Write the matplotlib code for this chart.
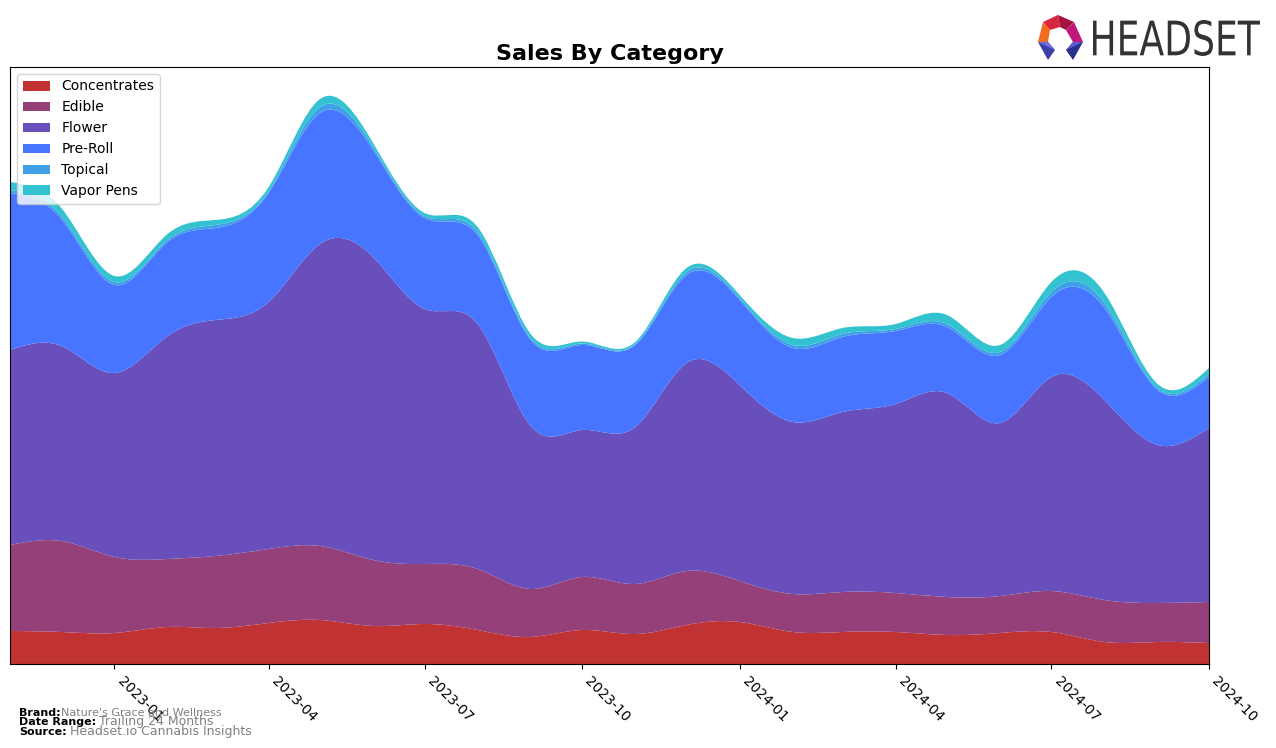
import datetime as dt
import numpy as np
import matplotlib
matplotlib.use('Agg')
import matplotlib.pyplot as plt
import matplotlib.dates as mdates
from matplotlib.path import Path
from matplotlib.patches import PathPatch, Patch, Polygon
from matplotlib.textpath import TextPath
from matplotlib.font_manager import FontProperties
from matplotlib.transforms import Affine2D

# monthly sales by category (arbitrary units)
months = ['2022-11', '2022-12', '2023-01', '2023-02', '2023-03', '2023-04',
          '2023-05', '2023-06', '2023-07', '2023-08', '2023-09', '2023-10',
          '2023-11', '2023-12', '2024-01', '2024-02', '2024-03', '2024-04',
          '2024-05', '2024-06', '2024-07', '2024-08', '2024-09', '2024-10']
concentrates = [33, 32, 31, 37, 36, 41, 44, 38, 40, 34, 27, 34,
                30, 39, 42, 32, 32, 32, 29, 31, 32, 22, 22, 21]
edible = [86, 91, 76, 68, 72, 74, 74, 66, 60, 61, 48, 53,
          50, 54, 41, 38, 40, 39, 38, 37, 41, 42, 39, 41]
flower = [195, 195, 184, 223, 236, 247, 302, 303, 255, 245, 163, 147,
          157, 208, 196, 172, 180, 189, 204, 173, 214, 200, 158, 174]
pre_roll = [157, 127, 88, 94, 92, 109, 131, 107, 91, 89, 86, 85,
            82, 88, 85, 74, 75, 73, 66, 68, 80, 92, 55, 51]
topical = [3, 3, 3, 2, 3, 2, 6, 3, 2, 3, 2, 1.5,
           1, 3, 2, 3, 3, 2, 3, 3, 5, 5, 2, 3]
vapor_pens = [8, 8, 6, 6, 5, 4, 8, 4, 3, 5, 4, 2,
              2, 4, 3, 7, 6, 5, 9, 7, 10, 10, 4, 6]

labels = ['Concentrates', 'Edible', 'Flower', 'Pre-Roll', 'Topical', 'Vapor Pens']
colors = ['#C13232', '#96407A', '#684FBC', '#4775FF', '#3FA0E8', '#33C3D0']


def spline_slopes(xs, ys):
    # slopes of a natural cubic spline through the points
    n = len(xs)
    h = np.diff(xs)
    d = np.diff(ys) / h
    A = np.zeros((n, n))
    b = np.zeros(n)
    A[0, 0], A[0, 1], b[0] = 2, 1, 3 * d[0]
    A[-1, -2], A[-1, -1], b[-1] = 1, 2, 3 * d[-1]
    for i in range(1, n - 1):
        A[i, i - 1] = h[i]
        A[i, i] = 2 * (h[i - 1] + h[i])
        A[i, i + 1] = h[i - 1]
        b[i] = 3 * (h[i] * d[i - 1] + h[i - 1] * d[i])
    return np.linalg.solve(A, b)


def bezier_segments(xs, ys):
    # cubic bezier control points equal to the spline pieces
    m = spline_slopes(xs, ys)
    verts = []
    for i in range(len(xs) - 1):
        h = xs[i + 1] - xs[i]
        verts += [(xs[i] + h / 3, ys[i] + h * m[i] / 3),
                  (xs[i + 1] - h / 3, ys[i + 1] - h * m[i + 1] / 3),
                  (xs[i + 1], ys[i + 1])]
    return verts


x = mdates.date2num([dt.datetime.strptime(m, '%Y-%m') for m in months])
series = [concentrates, edible, flower, pre_roll, topical, vapor_pens]

fig = plt.figure(figsize=(12.76, 7.48), dpi=100)
ax = fig.add_axes([10 / 1276, 84 / 748, 1199 / 1276, 597 / 748])

bottom = np.zeros(len(x))
for vals, col in zip(series, colors):
    top = bottom + np.array(vals, dtype=float)
    verts = [(x[0], top[0])] + bezier_segments(x, top)
    verts += [(x[-1], bottom[-1])] + bezier_segments(x[::-1], bottom[::-1])
    verts += [(x[0], top[0])]
    codes = [Path.MOVETO] + [Path.CURVE4] * (3 * (len(x) - 1))
    codes += [Path.LINETO] + [Path.CURVE4] * (3 * (len(x) - 1))
    codes += [Path.CLOSEPOLY]
    ax.add_patch(PathPatch(Path(verts, codes), facecolor=col, edgecolor='none'))
    bottom = top

ax.xaxis_date()
ax.set_xlim(x[0], x[-1])
ax.set_ylim(0, 597)
ax.xaxis.set_major_locator(mdates.MonthLocator(bymonth=[1, 4, 7, 10]))
ax.xaxis.set_major_formatter(mdates.DateFormatter('%Y-%m'))
plt.setp(ax.get_xticklabels(), rotation=-45, ha='left', fontsize=10)
ax.set_yticks([])
ax.set_title('Sales By Category', fontsize=16, fontweight='bold', pad=5)

handles = [Patch(facecolor=c, label=l) for c, l in zip(colors, labels)]
ax.legend(handles=handles, loc='upper left', fontsize=10, framealpha=0.8)

# footer
fig.text(19 / 1276, 1 - 713 / 748, 'Brand:', fontsize=8, fontweight='bold', va='center')
fig.text(61 / 1276, 1 - 713 / 748, "Nature's Grace and Wellness", fontsize=8, color='gray', va='center')
fig.text(19 / 1276, 1 - 722 / 748, 'Date Range:', fontsize=8, fontweight='bold', va='center')
fig.text(99 / 1276, 1 - 722 / 748, 'Trailing 24 Months', fontsize=9, color='gray', va='center')
fig.text(19 / 1276, 1 - 732 / 748, 'Source:', fontsize=8, fontweight='bold', va='center')
fig.text(70 / 1276, 1 - 732 / 748, 'Headset.io Cannabis Insights', fontsize=9, color='gray', va='center')

# logo
lax = fig.add_axes([1030 / 1276, 1 - 65 / 748, 240 / 1276, 55 / 748])
lax.set_xlim(1030, 1270)
lax.set_ylim(65, 10)
lax.axis('off')
logo_parts = [
    ([(1043, 22), (1058, 15), (1060, 27), (1050, 30)], '#D7263D'),
    ([(1058, 15), (1074, 22), (1066, 30), (1060, 27)], '#A4133C'),
    ([(1043, 22), (1050, 30), (1048, 42), (1038, 42)], '#F26B21'),
    ([(1074, 22), (1083, 42), (1073, 42), (1066, 30)], '#C2187A'),
    ([(1038, 42), (1048, 42), (1055, 50), (1048, 60)], '#3B3FA8'),
    ([(1083, 42), (1073, 42), (1066, 50), (1073, 60)], '#2B2F8C'),
    ([(1038, 42), (1048, 42), (1055, 50)], '#6C6FE0'),
    ([(1083, 42), (1073, 42), (1066, 50)], '#5A5DD0'),
]
for pts, col in logo_parts:
    lax.add_patch(Polygon(pts, closed=True, facecolor=col, edgecolor='none'))

# squeeze the wordmark into its box
tp = TextPath((0, 0), 'HEADSET', size=40, prop=FontProperties(family='DejaVu Sans'))
ext = tp.get_extents()
sx = (1260 - 1093) / ext.width
sy = (56 - 20) / ext.height
tr = Affine2D().translate(-ext.x0, -ext.y0).scale(sx, -sy).translate(1093, 56)
lax.add_patch(PathPatch(tr.transform_path(tp), facecolor='#333333', edgecolor='none'))

fig.savefig('out.png', dpi=100)
